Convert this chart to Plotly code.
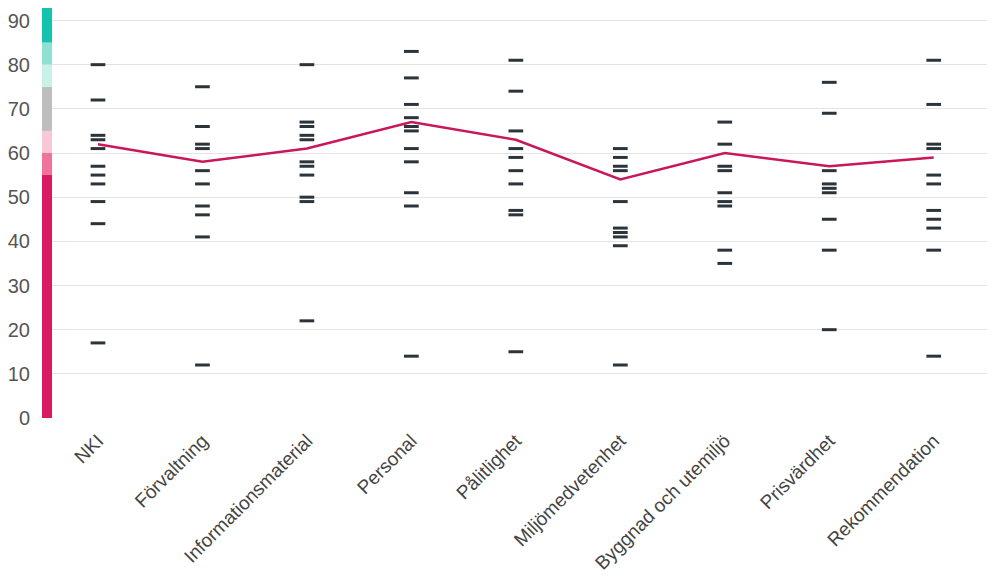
import plotly.graph_objects as go

categories = ["NKI", "Förvaltning", "Informationsmaterial", "Personal", "Pålitlighet",
              "Miljömedvetenhet", "Byggnad och utemiljö", "Prisvärdhet", "Rekommendation"]

nki = [80, 72, 64, 63, 61, 57, 55, 53, 49, 44, 17]
forvaltning = [75, 66, 62, 61, 56, 53, 48, 46, 41, 12]
information = [80, 67, 66, 64, 63, 58, 57, 55, 50, 49, 22]
personal = [83, 77, 71, 68, 66, 65, 61, 58, 51, 48, 14]
palitlighet = [81, 74, 65, 61, 59, 56, 53, 47, 46, 15]
miljo = [61, 59, 57, 56, 49, 43, 42, 41, 39, 12]
byggnad = [67, 62, 57, 56, 51, 49, 48, 38, 35]
prisvardhet = [76, 69, 56, 53, 52, 51, 45, 38, 20]
rekommendation = [81, 71, 62, 61, 55, 53, 47, 45, 43, 38, 14]
series_values = [nki, forvaltning, information, personal, palitlighet, miljo, byggnad, prisvardhet, rekommendation]

averages = [62, 58, 61, 67, 63, 54, 60, 57, 59]

band_edges = [0, 55, 60, 65, 75, 80, 85, 100]
band_colors = ["#d81b60", "#f0739b", "#f8c8d7", "#bebebe", "#c8f1e8", "#8fe2d3", "#13c3ad"]

tick_vals = [0, 10, 20, 30, 40, 50, 60, 70, 80, 90]

fig = go.Figure()

xs, ys = [], []
for cat, vals in zip(categories, series_values):
    for v in vals:
        xs.append(cat)
        ys.append(v)

fig.add_trace(go.Scatter(
    x=xs, y=ys, mode="markers",
    marker=dict(symbol="line-ew", size=10.5, color="#2b333b",
                line=dict(width=3, color="#2b333b")),
    showlegend=False, hoverinfo="y",
))

fig.add_trace(go.Scatter(
    x=categories, y=averages, mode="lines",
    line=dict(color="#c8185a", width=2.5),
    showlegend=False,
))

for i in range(len(band_colors)):
    fig.add_shape(type="rect", xref="paper", yref="y",
                  x0=-0.0107, x1=0, y0=band_edges[i], y1=band_edges[i + 1],
                  fillcolor=band_colors[i], line=dict(width=0), layer="above")

fig.update_layout(
    width=984, height=568,
    margin=dict(l=44, r=5, t=0, b=157.7),
    plot_bgcolor="white", paper_bgcolor="white",
    font=dict(family="Liberation Sans, Arial, sans-serif"),
    xaxis=dict(type="category", range=[-0.44, 8.51], showgrid=False,
               tickangle=-45, tickfont=dict(size=19, color="#444444"),
               ticks="", showline=False, zeroline=False, automargin=False,
               ticklabelstandoff=7),
    yaxis=dict(range=[0, 92.83], tickvals=tick_vals, showgrid=True,
               gridcolor="#e3e3e3", gridwidth=1, zeroline=False,
               tickfont=dict(size=20, color="#555555"), ticks="",
               ticklabelstandoff=21, automargin=False),
)

fig.write_html("out.html")
